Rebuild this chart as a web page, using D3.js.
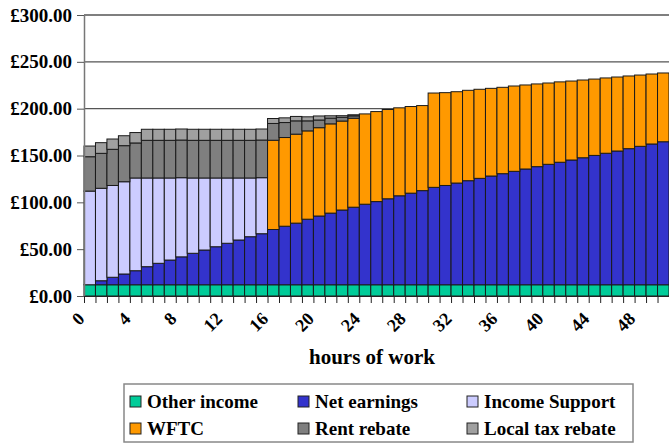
<!DOCTYPE html>
<html>
<head>
<meta charset="utf-8">
<script src="https://cdn.jsdelivr.net/npm/d3@7"></script>
<style>
  body { margin: 0; background: #fff; }
  svg { display: block; }
</style>
</head>
<body>
<div class="chart"></div>
<script>
// hours of work (categories)
var hours = [0,1,2,3,4,5,6,7,8,9,10,11,12,13,14,15,16,17,18,19,20,21,22,23,24,25,
  26,27,28,29,30,31,32,33,34,35,36,37,38,39,40,41,42,43,44,45,46,47,48,49,50];
var hourLabels = ["0","4","8","12","16","20","24","28","32","36","40","44","48"];
var yTicks = [0, 50, 100, 150, 200, 250, 300];

// weekly income components, £
var otherIncome = [12,12,12,12,12,12,12,12,12,12,12,12,12,12,12,12,12,12,12,12,12,12,12,12,12,12,
  12,12,12,12,12,12,12,12,12,12,12,12,12,12,12,12,12,12,12,12,12,12,12,12,12];
var netEarnings = [0,4.3,8,11.5,15,19.3,22.9,26.4,29.8,33.6,37.1,40.6,44.3,47.8,51.3,54.5,
  59,62.5,65.8,70,73.4,76.5,79.8,82.8,86,88.8,91.8,95,97.8,100.5,104,106,108.6,111.1,113.6,
  116.1,118.6,121.1,123.6,126.1,128.6,130.8,133.2,135.6,138.1,140.4,142.8,145.3,147.8,150.3,152.7];
var incomeSupport = [100,98.7,98,98.5,99,94.7,91.1,87.6,84.5,80.4,76.9,73.4,69.7,66.2,62.7,59.8,
  0,0,0,0,0,0,0,0,0,0,0,0,0,0,0,0,0,0,0,0,0,0,0,0,0,0,0,0,0,0,0,0,0,0,0];
var wftc = [0,0,0,0,0,0,0,0,0,0,0,0,0,0,0,0,
  95.3,94.7,95,94.3,94.3,95.3,95,95,96.4,96.1,95.3,93.9,92.5,90.8,100.7,99.1,97.5,96.5,95.1,
  93.6,92.2,91.1,89.7,88.3,86.8,85.8,84.3,83,81.5,80.4,79,77.6,76.1,74.7,73.4];
var rentRebate = [36.7,37.3,38.6,38.5,37.4,40.2,40.2,40.2,40.2,40.2,40.2,40.2,40.2,40.2,40.2,40.2,
  17.9,16,14.2,10.7,8.2,6.1,4,2.5,0,0,0,0,0,0,0,0,0,0,0,0,0,0,0,0,0,0,0,0,0,0,0,0,0,0,0];
var localTaxRebate = [11.4,11.4,11,10.6,11.1,11.8,11.8,11.8,11.8,11.8,11.8,11.8,11.8,11.8,11.8,11.8,
  5.3,5,4.7,4.3,4.3,2.5,1.7,1.2,0,0,0,0,0,0,0,0,0,0,0,0,0,0,0,0,0,0,0,0,0,0,0,0,0,0,0];

var seriesNames = ["Other income", "Net earnings", "Income Support", "WFTC", "Rent rebate", "Local tax rebate"];
var seriesValues = [otherIncome, netEarnings, incomeSupport, wftc, rentRebate, localTaxRebate];
var colors = ["#00cc99", "#3333cc", "#ccccff", "#ff9900", "#7f7f7f", "#a0a0a0"];

var serif = "'Liberation Serif', 'Times New Roman', Times, 'DejaVu Serif', serif";

var width = 669, height = 443;
var plot = {left: 84, right: 669, top: 15, bottom: 296};

var svg = d3.select(".chart").append("svg")
    .attr("width", width)
    .attr("height", height)
    .style("font-family", serif)
    .style("font-weight", "bold");

// table for d3.stack
var table = hours.map(function(h, i) {
    var row = {hour: h};
    seriesNames.forEach(function(name, k) { row[name] = seriesValues[k][i]; });
    return row;
});

var xScale = d3.scaleBand()
    .domain(hours)
    .range([plot.left, plot.right])
    .padding(0);

var xEdge = d3.scaleLinear()
    .domain([0, hours.length])
    .range([plot.left, plot.right]);

var yScale = d3.scaleLinear()
    .domain([0, 300])
    .range([plot.bottom, plot.top]);

// gridlines
svg.append("g")
    .selectAll("line")
    .data(yTicks.filter(function(d) { return d > 0; }))
    .join("line")
    .attr("x1", plot.left)
    .attr("x2", plot.right)
    .attr("y1", function(d) { return yScale(d); })
    .attr("y2", function(d) { return yScale(d); })
    .attr("stroke", "#555")
    .attr("stroke-width", 1.3);

// stacked bars
var stacked = d3.stack().keys(seriesNames)(table);

svg.append("g")
    .selectAll("g")
    .data(stacked)
    .join("g")
    .attr("fill", function(d, i) { return colors[i]; })
    .selectAll("rect")
    .data(function(d) { return d.filter(function(s) { return s[1] - s[0] > 0; }); })
    .join("rect")
    .attr("x", function(d) { return xScale(d.data.hour); })
    .attr("width", xScale.bandwidth())
    .attr("y", function(d) { return yScale(d[1]); })
    .attr("height", function(d) { return yScale(d[0]) - yScale(d[1]); })
    .attr("stroke", "#1a1a1a")
    .attr("stroke-width", 1);

// y axis
var yAxis = d3.axisLeft(yScale)
    .tickValues(yTicks)
    .tickFormat(function(d) { return "£" + d.toFixed(2); })
    .tickSize(7)
    .tickSizeOuter(0)
    .tickPadding(5);

var gy = svg.append("g")
    .attr("class", "axis y-axis")
    .attr("transform", "translate(" + plot.left + ",0)")
    .call(yAxis)
    .attr("font-family", null)
    .attr("font-size", null);
gy.select(".domain").attr("stroke", "#777").attr("stroke-width", 1.5);
gy.selectAll(".tick line").attr("stroke", "#555");
gy.selectAll("text")
    .attr("fill", "#000")
    .style("font-family", serif)
    .style("font-size", "19px");

// x axis: ticks between categories
var xAxis = d3.axisBottom(xEdge)
    .tickValues(d3.range(0, hours.length + 1))
    .tickFormat("")
    .tickSize(7)
    .tickSizeOuter(0);

var gx = svg.append("g")
    .attr("class", "axis x-axis")
    .attr("transform", "translate(0," + plot.bottom + ")")
    .call(xAxis);
gx.select(".domain").attr("stroke", "#222");
gx.selectAll(".tick line").attr("stroke", "#222");

svg.append("g")
    .selectAll("text")
    .data(hourLabels)
    .join("text")
    .attr("transform", function(d) {
        return "translate(" + (xScale(+d) + xScale.bandwidth() / 2 - 4) + "," + (plot.bottom + 24) + ") rotate(-45)";
    })
    .attr("text-anchor", "end")
    .style("font-family", serif)
    .style("font-size", "18px")
    .text(function(d) { return d; });

svg.append("text")
    .attr("x", 372)
    .attr("y", 364)
    .attr("text-anchor", "middle")
    .style("font-family", serif)
    .style("font-size", "21px")
    .text("hours of work");

// legend
var legend = svg.append("g");
legend.append("rect")
    .attr("x", 124)
    .attr("y", 384)
    .attr("width", 509)
    .attr("height", 58)
    .attr("fill", "#fff")
    .attr("stroke", "#888")
    .attr("stroke-width", 1.5);

var colX = [130, 298, 467], rowY = [402, 429];
var items = legend.selectAll("g")
    .data(seriesNames)
    .join("g")
    .attr("transform", function(d, i) {
        return "translate(" + colX[i % 3] + "," + rowY[Math.floor(i / 3)] + ")";
    });
items.append("rect")
    .attr("x", 0)
    .attr("y", -6)
    .attr("width", 11)
    .attr("height", 11)
    .attr("fill", function(d, i) { return colors[i]; })
    .attr("stroke", "#222");
items.append("text")
    .attr("x", 17)
    .attr("y", 6)
    .style("font-family", serif)
    .style("font-size", "19px")
    .text(function(d) { return d; });
</script>
</body>
</html>
